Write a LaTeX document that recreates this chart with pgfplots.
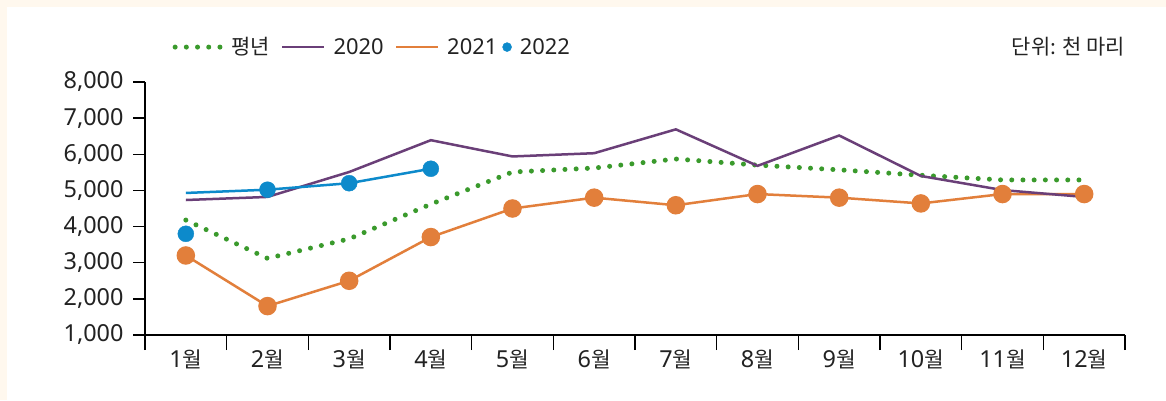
\documentclass[border=0pt]{standalone}
\usepackage{fontspec}
\setmainfont{Noto Sans}
\newfontfamily\kr{Noto Sans CJK KR}
\usepackage{pgfplots}
\pgfplotsset{compat=1.18}
\definecolor{cream}{HTML}{FFF8EE}
\definecolor{cgreen}{HTML}{3A9A2C}
\definecolor{cpurple}{HTML}{6A3F78}
\definecolor{corange}{HTML}{E27F3B}
\definecolor{cblue}{HTML}{0D8ACB}
\definecolor{ctext}{HTML}{222222}
\newcommand{\fs}{\fontsize{22}{26}\selectfont}
\newcommand{\ft}{\fontsize{23.5}{26}\selectfont}
\newcommand{\m}[1]{#1{\kr\fontsize{21.5}{26}\selectfont 월}}
\pgfplotsset{
  legline/.style={legend image code/.code={\draw[##1] (0bp,0) -- (42bp,0);}},
  legdots/.style={legend image code/.code={\draw[##1] (0bp,0) -- (46bp,0);}},
  legdot/.style={legend image code/.code={\fill[cblue] (0bp,0) circle (4.5bp);}},
}
\begin{document}
\begin{tikzpicture}[x=1bp,y=1bp]
\path[use as bounding box] (0,0) rectangle (1166,400);
\fill[cream] (0,0) rectangle (1166,400);
\fill[white] (7,0) rectangle (1166,393);
\node[anchor=east, text=ctext, font=\kr\fontsize{21}{24}\selectfont, inner sep=0pt] at (1125,353) {단위: 천 마리};
\begin{axis}[
  at={(145bp,65bp)}, anchor=south west,
  scale only axis, width=980bp, height=253bp,
  xmin=0.5, xmax=12.5, ymin=1000, ymax=8000,
  axis x line=bottom, axis y line=left,
  axis line style={-, line width=1.3bp, black},
  xtick={1,...,12},
  xticklabels={\m1,\m2,\m3,\m4,\m5,\m6,\m7,\m8,\m9,\m{10},\m{11},\m{12}},
  minor xtick={0.5,1.5,...,12.5},
  major x tick style={draw=none},
  minor x tick style={line width=1.3bp, black},
  ytick={1000,2000,...,8000},
  y tick style={line width=1.3bp, black},
  tick align=outside,
  major tick length=12bp, minor tick length=15bp,
  /pgf/number format/assume math mode=true,
  /pgf/number format/1000 sep={,},
  yticklabel style={font=\ft, text=ctext, xshift=-6bp},
  xticklabel style={font=\ft, text=ctext, yshift=1bp},
  clip=false,
  legend style={at={(0.028,1.138)}, anchor=west, draw=none, fill=none,
    font=\fs, text=ctext,
    legend columns=-1, inner sep=0pt,
    /tikz/every odd column/.append style={column sep=6bp},
    /tikz/every even column/.append style={column sep=9bp}},
]
\addlegendimage{cgreen, line width=5bp, line cap=round, dash pattern=on 0pt off 11.2bp, legdots}
\addlegendentry{{\kr\fontsize{21}{26}\selectfont 평년}}
\addlegendimage{cpurple, line width=2.5bp, legline}
\addlegendentry{2020}
\addlegendimage{corange, line width=2.5bp, legline}
\addlegendentry{2021\hspace*{-6bp}}
\addlegendimage{cblue, legdot}
\addlegendentry{2022}
% 평년
\addplot[cgreen, line width=5bp, line cap=round, dash pattern=on 0pt off 11.2bp, forget plot]
 coordinates {(1,4180)(2,3120)(3,3660)(4,4620)(5,5510)(6,5620)(7,5870)(8,5700)(9,5570)(10,5420)(11,5290)(12,5290)};
% 2021
\addplot[corange, line width=2.5bp, mark=*, mark size=8bp, mark options={fill=corange, draw=none}, forget plot]
 coordinates {(1,3200)(2,1800)(3,2500)(4,3710)(5,4500)(6,4800)(7,4590)(8,4900)(9,4800)(10,4640)(11,4900)(12,4900)};
% 2020
\addplot[cpurple, line width=2.5bp, forget plot]
 coordinates {(1,4735)(2,4820)(3,5510)(4,6390)(5,5940)(6,6030)(7,6690)(8,5680)(9,6520)(10,5400)(11,5010)(12,4820)};
% 2022 line
\addplot[cblue, line width=2.5bp, forget plot]
 coordinates {(1,4930)(2,5020)(3,5200)(4,5600)};
% 2022 marks
\addplot[cblue, only marks, mark=*, mark size=8bp, mark options={fill=cblue, draw=none}, forget plot]
 coordinates {(1,3800)(2,5020)(3,5200)(4,5600)};
\end{axis}
\end{tikzpicture}
\end{document}
